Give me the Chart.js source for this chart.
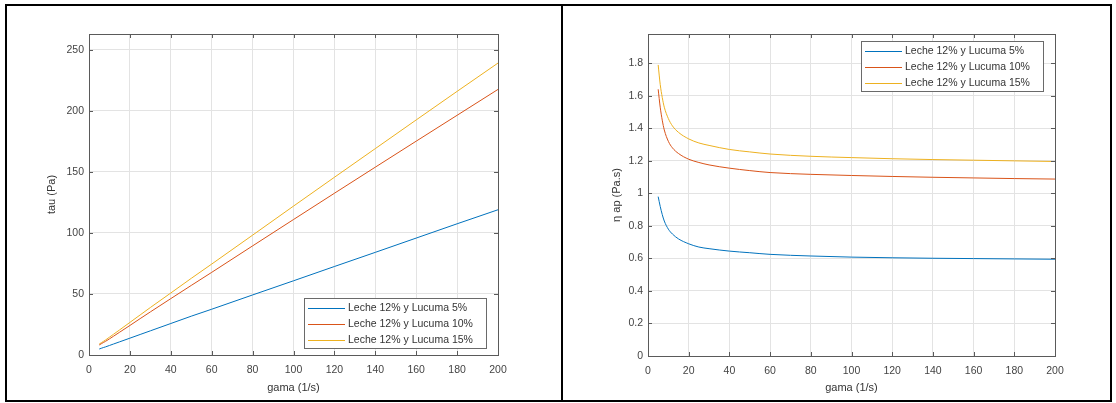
<!DOCTYPE html>
<html>
<head>
<meta charset="utf-8">
<script src="https://cdn.jsdelivr.net/npm/chart.js@4/dist/chart.umd.min.js"></script>
<style>
  body { margin: 0; background: #fff; width: 1116px; height: 403px; position: relative; overflow: hidden; }
  .frame { position: absolute; left: 5px; top: 4px; width: 1107px; height: 398px; border: 2px solid #000; box-sizing: border-box; }
  .divider { position: absolute; left: 561px; top: 4px; width: 2px; height: 398px; background: #000; }
  canvas { position: absolute; }
</style>
</head>
<body>
<div class="frame"></div>
<div class="divider"></div>
<canvas id="chartTau" style="left:7px; top:6px; width:554px; height:394px;" width="554" height="394"></canvas>
<canvas id="chartEta" style="left:563px; top:6px; width:547px; height:394px;" width="547" height="394"></canvas>
<script>
// Données (gama en 1/s)
var gama = [5, 6, 7, 8, 10, 12, 15, 20, 25, 30, 40, 50, 60, 80, 100, 120, 140, 160, 180, 200];

// Contrainte tau (Pa)
var tau5  = [4.9, 5.5, 6.1, 6.6, 7.8, 9.0, 10.8, 13.8, 16.8, 19.8, 25.8, 31.8, 37.5, 49.2, 60.8, 72.5, 84.1, 95.8, 107.5, 119.0];
var tau10 = [8.2, 9.2, 10.2, 11.1, 13.2, 15.4, 18.7, 24.2, 29.8, 35.3, 46.2, 57.0, 67.7, 89.4, 111.0, 132.5, 153.9, 175.2, 196.4, 217.6];
var tau15 = [9.0, 10.0, 11.1, 12.2, 14.6, 17.0, 20.6, 26.7, 32.8, 38.9, 50.8, 62.8, 74.5, 98.2, 122.0, 145.6, 169.1, 192.6, 216.0, 239.2];

// Viscosité apparente (Pa.s)
var eta5  = [0.98, 0.92, 0.87, 0.83, 0.78, 0.75, 0.72, 0.69, 0.67, 0.66, 0.645, 0.635, 0.625, 0.615, 0.608, 0.604, 0.601, 0.599, 0.597, 0.595];
var eta10 = [1.64, 1.53, 1.45, 1.39, 1.32, 1.28, 1.245, 1.21, 1.19, 1.175, 1.155, 1.14, 1.128, 1.117, 1.11, 1.104, 1.099, 1.095, 1.091, 1.088];
var eta15 = [1.79, 1.67, 1.59, 1.53, 1.46, 1.415, 1.375, 1.335, 1.31, 1.295, 1.27, 1.255, 1.242, 1.228, 1.22, 1.213, 1.208, 1.204, 1.2, 1.196];

var noms = ['Leche 12% y Lucuma 5%', 'Leche 12% y Lucuma 10%', 'Leche 12% y Lucuma 15%'];
var couleurs = ['#0072BD', '#D95319', '#EDB120'];

var xTicks = [0, 20, 40, 60, 80, 100, 120, 140, 160, 180, 200];
var tauTicks = [0, 50, 100, 150, 200, 250];
var etaTicks = [0, 0.2, 0.4, 0.6, 0.8, 1, 1.2, 1.4, 1.6, 1.8];

var police = "'Liberation Sans', Arial, sans-serif";

function points(ys) {
  return gama.map(function (g, i) { return { x: g, y: ys[i] }; });
}

function jeux(series) {
  return series.map(function (ys, i) {
    return {
      label: noms[i],
      data: points(ys),
      borderColor: couleurs[i],
      backgroundColor: couleurs[i],
      borderWidth: 1,
      pointRadius: 0,
      cubicInterpolationMode: 'monotone',
      fill: false
    };
  });
}

// Cadre des axes + petites graduations à l'intérieur, façon MATLAB
var cadre = {
  id: 'cadre',
  afterDatasetsDraw: function (chart) {
    var a = chart.chartArea, c = chart.ctx;
    var sx = chart.scales.x, sy = chart.scales.y;
    c.save();
    c.strokeStyle = '#5a5a5a';
    c.lineWidth = 1;
    c.beginPath();
    sx.ticks.forEach(function (t) {
      var px = Math.round(sx.getPixelForValue(t.value)) + 0.5;
      c.moveTo(px, a.bottom); c.lineTo(px, a.bottom - 4);
      c.moveTo(px, a.top); c.lineTo(px, a.top + 4);
    });
    sy.ticks.forEach(function (t) {
      var py = Math.round(sy.getPixelForValue(t.value)) + 0.5;
      c.moveTo(a.left, py); c.lineTo(a.left + 4, py);
      c.moveTo(a.right, py); c.lineTo(a.right - 4, py);
    });
    c.stroke();
    c.strokeRect(Math.round(a.left) + 0.5, Math.round(a.top) + 0.5, Math.round(a.right - a.left), Math.round(a.bottom - a.top));
    c.restore();
  }
};

// Légende dessinée dans la zone du graphique
var legendeInterne = {
  id: 'legendeInterne',
  afterDraw: function (chart, args, opts) {
    var a = chart.chartArea, c = chart.ctx;
    var w = 182, h = 50;
    var x0 = Math.round(a.right - 12 - w);
    var y0 = Math.round(opts.place === 'haut' ? a.top + 7 : a.bottom - 7 - h);
    c.save();
    c.fillStyle = '#fff';
    c.fillRect(x0, y0, w, h);
    c.lineWidth = 1;
    c.font = '10.5px ' + police;
    c.textBaseline = 'middle';
    chart.data.datasets.forEach(function (ds, i) {
      var y = Math.round(y0 + 10 + i * 16) + 0.5;
      c.beginPath();
      c.strokeStyle = ds.borderColor;
      c.moveTo(x0 + 4, y);
      c.lineTo(x0 + 41, y);
      c.stroke();
      c.fillStyle = '#333';
      c.fillText(ds.label, x0 + 44, y);
    });
    c.strokeStyle = '#6a6a6a';
    c.strokeRect(x0 + 0.5, y0 + 0.5, w, h);
    c.restore();
  }
};

function config(series, titreY, yMax, yTicks, padGauche, largeurY, padDroite, hauteurX, place) {
  return {
    type: 'line',
    data: { datasets: jeux(series) },
    plugins: [cadre, legendeInterne],
    options: {
      responsive: false,
      animation: false,
      layout: { padding: { left: padGauche, top: 28, right: padDroite, bottom: 1 } },
      plugins: {
        legend: { display: false },
        tooltip: { enabled: false },
        legendeInterne: { place: place }
      },
      scales: {
        x: {
          type: 'linear',
          min: 0, max: 200,
          afterBuildTicks: function (s) { s.ticks = xTicks.map(function (v) { return { value: v }; }); },
          afterFit: function (s) { s.height = hauteurX; },
          grid: { color: '#e3e3e3', drawTicks: false },
          border: { display: false },
          ticks: { padding: 9, color: '#444', font: { family: police, size: 10.5 }, maxRotation: 0 },
          title: { display: true, text: 'gama (1/s)', color: '#333', font: { family: police, size: 11 }, padding: { top: 4, bottom: 4 } }
        },
        y: {
          min: 0, max: yMax,
          afterBuildTicks: function (s) { s.ticks = yTicks.map(function (v) { return { value: v }; }); },
          afterFit: function (s) { s.width = largeurY; },
          grid: { color: '#e3e3e3', drawTicks: false },
          border: { display: false },
          ticks: {
            padding: 5, color: '#444', font: { family: police, size: 10.5 },
            callback: function (v) { return String(+Number(v).toFixed(2)); }
          },
          title: { display: true, text: titreY, color: '#333', font: { family: police, size: 11 }, padding: { top: 4, bottom: 4 } }
        }
      }
    }
  };
}

new Chart(document.getElementById('chartTau').getContext('2d'),
  config([tau5, tau10, tau15], 'tau (Pa)', 263, tauTicks, 34, 48, 63, 44, 'bas'));

new Chart(document.getElementById('chartEta').getContext('2d'),
  config([eta5, eta10, eta15], 'η ap (Pa.s)', 1.98, etaTicks, 43, 42, 55, 43, 'haut'));
</script>
</body>
</html>
